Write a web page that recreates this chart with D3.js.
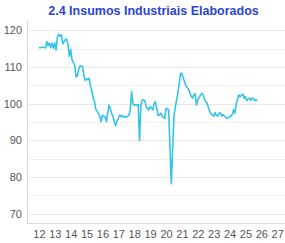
<!DOCTYPE html>
<html>
<head>
<meta charset="utf-8">
<script src="https://cdn.jsdelivr.net/npm/d3@7"></script>
<style>
  body { margin: 0; background: #fff; }
  svg { display: block; font-family: "Liberation Sans", Arial, sans-serif; }
</style>
</head>
<body>
<svg width="285" height="243"></svg>
<script>
// monthly index values, Jan 2012 onward
var v2012 = [115.3, 115.2, 115.4, 115.3, 115.3, 115.2, 116.9, 115.8, 116.5, 115.3, 116.5, 115.1];
var v2013 = [116.5, 114.6, 118.2, 118.9, 118.3, 118.7, 116.3, 116.9, 117.4, 117.5, 116.0, 112.9];
var v2014 = [114.8, 112.0, 111.2, 110.5, 107.3, 107.5, 109.4, 110.3, 110.2, 110.1, 107.5, 106.3];
var v2015 = [106.8, 106.5, 106.9, 104.6, 103.5, 101.5, 100.5, 98.4, 97.9, 97.5, 96.5, 95.1];
var v2016 = [96.9, 96.6, 96.4, 95.1, 97.5, 99.6, 98.5, 97.3, 96.5, 95.0, 94.0, 95.3];
var v2017 = [96.0, 96.9, 96.5, 96.8, 96.3, 96.5, 96.4, 96.5, 96.9, 98.3, 103.3, 100.0];
var v2018 = [99.6, 99.7, 99.6, 99.8, 89.9, 99.6, 101.0, 101.0, 100.8, 99.2, 98.6, 98.3];
var v2019 = [99.2, 98.8, 98.3, 100.0, 100.5, 98.7, 96.8, 96.9, 97.4, 96.7, 96.2, 96.0];
var v2020 = [98.7, 98.5, 98.4, 88.0, 78.2, 87.5, 96.6, 99.0, 101.0, 103.0, 105.5, 108.3];
var v2021 = [108.2, 107.0, 106.0, 104.8, 104.4, 104.0, 103.0, 102.0, 101.5, 102.3, 102.7, 99.6];
var v2022 = [101.0, 101.7, 102.3, 102.8, 102.4, 101.3, 100.4, 100.2, 99.0, 97.8, 97.3, 96.8];
var v2023 = [96.6, 97.6, 96.8, 96.6, 97.4, 97.5, 96.6, 97.0, 96.7, 96.3, 96.0, 96.2];
var v2024 = [96.3, 96.6, 97.0, 98.3, 97.4, 99.8, 101.2, 102.4, 101.9, 102.3, 102.6, 101.5];
var v2025 = [101.9, 100.8, 101.3, 101.5, 100.9, 101.5, 101.4, 100.8, 101.0, 100.8];

var startYear = 2012;
var xTicks = [2012, 2013, 2014, 2015, 2016, 2017, 2018, 2019, 2020, 2021, 2022, 2023, 2024, 2025, 2026, 2027];
var yTicks = [70, 80, 90, 100, 110, 120];
var yGrid = [70, 75, 80, 85, 90, 95, 100, 105, 110, 115, 120];

var title = "2.4 Insumos Industriais Elaborados";

var values = [].concat(v2012, v2013, v2014, v2015, v2016, v2017, v2018, v2019,
    v2020, v2021, v2022, v2023, v2024, v2025);
var data = values.map(function(v, i) {
    return { t: startYear + i / 12, v: v };
});

var svg = d3.select("svg");

var x = d3.scaleLinear().domain([2011.25, 2027.3]).range([27, 282]);
var y = d3.scaleLinear().domain([67.5, 122.5]).range([223, 21]);

// gridlines
svg.append("g")
    .selectAll("line")
    .data(yGrid)
    .enter().append("line")
    .attr("x1", 27)
    .attr("x2", 285)
    .attr("y1", function(d) { return Math.round(y(d)) + 0.5; })
    .attr("y2", function(d) { return Math.round(y(d)) + 0.5; })
    .attr("stroke", function(d) { return d % 10 === 0 ? "#e8e8e8" : "#f2f2f2"; })
    .attr("stroke-width", 1);

// axes lines
svg.append("line")
    .attr("x1", 27.5).attr("x2", 27.5)
    .attr("y1", 21).attr("y2", 223)
    .attr("stroke", "#dadada").attr("stroke-width", 1.2);
svg.append("line")
    .attr("x1", 27).attr("x2", 285)
    .attr("y1", 223.5).attr("y2", 223.5)
    .attr("stroke", "#dadada").attr("stroke-width", 1.2);

// y labels
var yAxis = d3.axisLeft(y).tickValues(yTicks).tickSize(0).tickPadding(5);
svg.append("g")
    .attr("transform", "translate(27,0)")
    .call(yAxis)
    .call(function(g) { g.select(".domain").remove(); })
    .selectAll("text")
    .attr("font-family", "'Liberation Sans', Arial, sans-serif")
    .attr("font-size", 11)
    .attr("fill", "#555");

// x labels
var xAxis = d3.axisBottom(x).tickValues(xTicks).tickSize(0).tickPadding(7)
    .tickFormat(function(d) { return String(d).slice(2); });
svg.append("g")
    .attr("transform", "translate(0,223)")
    .call(xAxis)
    .call(function(g) { g.select(".domain").remove(); })
    .selectAll("text")
    .attr("font-family", "'Liberation Sans', Arial, sans-serif")
    .attr("font-size", 11)
    .attr("fill", "#555");

// the series
var line = d3.line()
    .x(function(d) { return x(d.t); })
    .y(function(d) { return y(d.v); });

svg.append("path")
    .datum(data)
    .attr("d", line)
    .attr("fill", "none")
    .attr("stroke", "#33c4ec")
    .attr("stroke-width", 1.6)
    .attr("stroke-linejoin", "round");

// title
svg.append("text")
    .attr("x", 153.5)
    .attr("y", 15)
    .attr("text-anchor", "middle")
    .attr("font-size", 12.5)
    .attr("font-weight", "bold")
    .attr("fill", "#2a44d6")
    .text(title);
</script>
</body>
</html>
